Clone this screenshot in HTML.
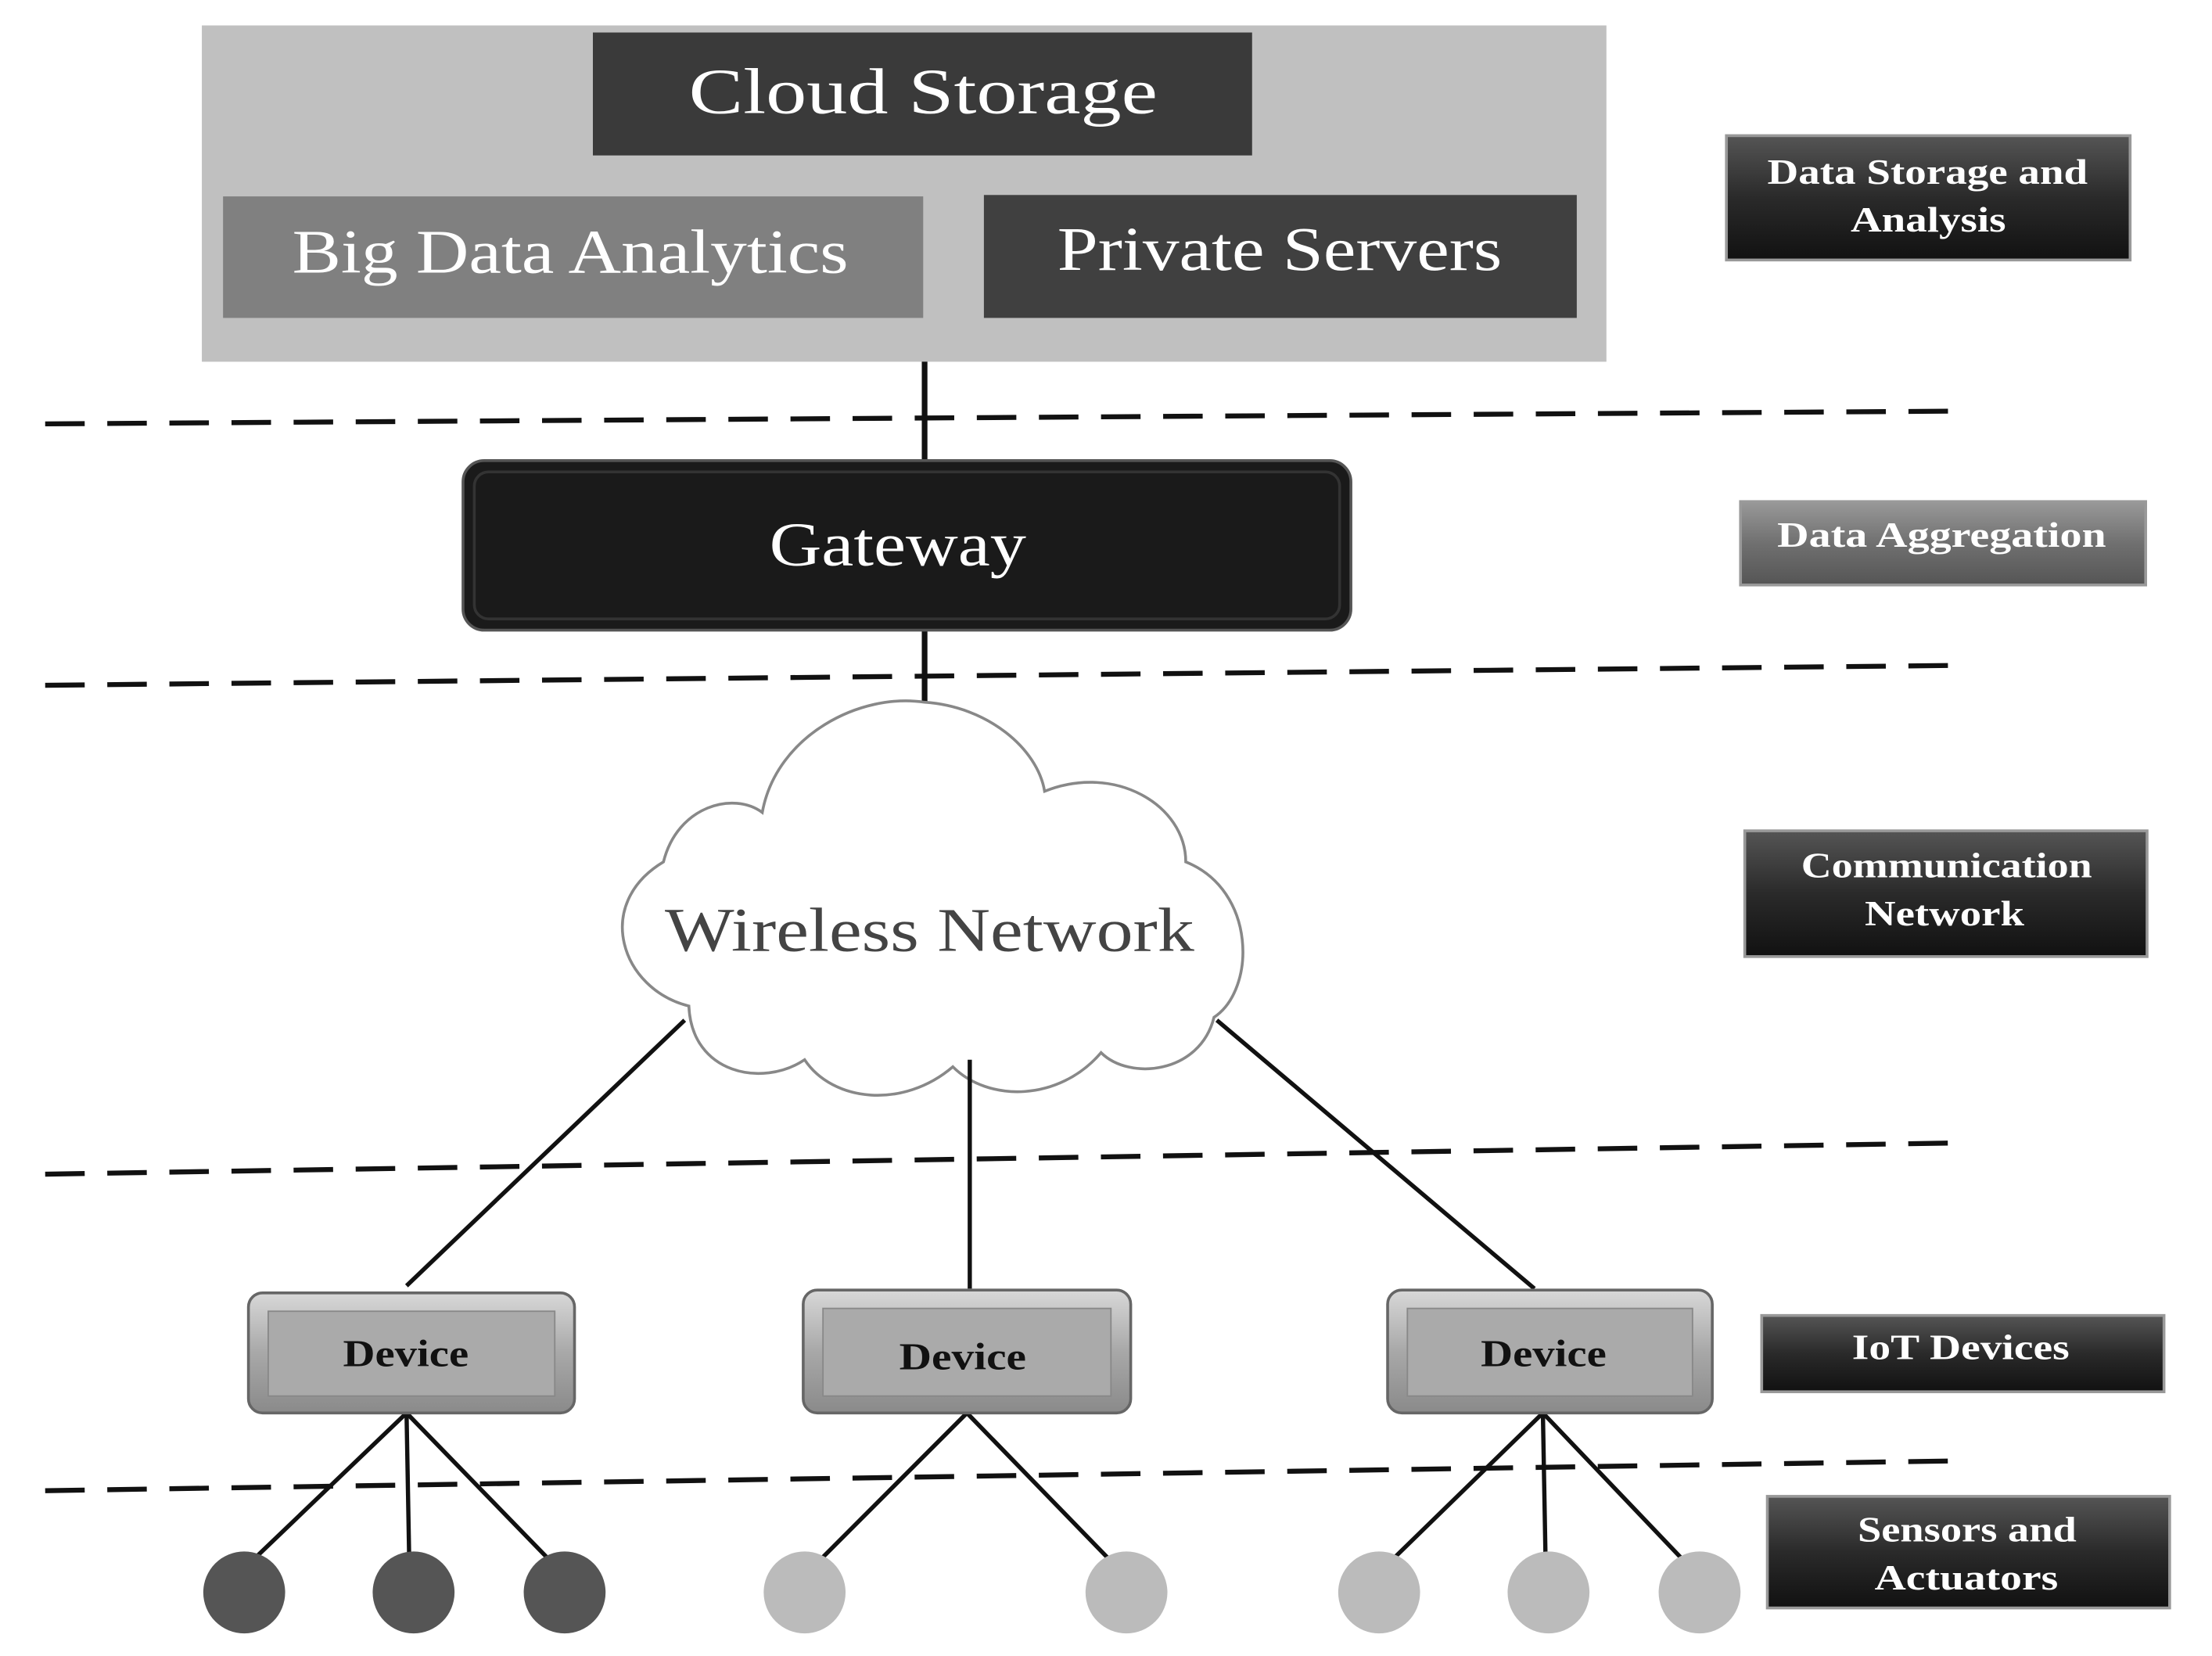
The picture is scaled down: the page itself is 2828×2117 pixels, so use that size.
<!DOCTYPE html>
<html><head><meta charset="utf-8"><style>
html,body{margin:0;padding:0;background:#fff;}
svg{display:block}
text{font-family:"Liberation Serif",serif;}
</style></head><body>
<svg width="2828" height="2117" viewBox="0 0 1567 1172" preserveAspectRatio="none" xmlns="http://www.w3.org/2000/svg">
<defs>
<linearGradient id="dev" x1="0" y1="0" x2="0" y2="1">
<stop offset="0" stop-color="#d8d8d8"/><stop offset="0.5" stop-color="#a8a8a8"/><stop offset="1" stop-color="#8a8a8a"/>
</linearGradient>
<linearGradient id="lab" x1="0" y1="0" x2="0" y2="1">
<stop offset="0" stop-color="#555"/><stop offset="0.5" stop-color="#2a2a2a"/><stop offset="1" stop-color="#111"/>
</linearGradient>
<linearGradient id="labg" x1="0" y1="0" x2="0" y2="1">
<stop offset="0" stop-color="#999"/><stop offset="0.5" stop-color="#707070"/><stop offset="1" stop-color="#555"/>
</linearGradient>
</defs>
<rect x="143" y="18" width="995" height="238" fill="#c0c0c0"/>
<rect x="420" y="23" width="467" height="87" fill="#3a3a3a"/>
<text x="488" y="80" font-size="46" fill="#fff" textLength="332" lengthAdjust="spacingAndGlyphs">Cloud Storage</text>
<rect x="158" y="139" width="496" height="86" fill="#808080"/>
<text x="207" y="193" font-size="44" fill="#fff" textLength="394" lengthAdjust="spacingAndGlyphs">Big Data Analytics</text>
<rect x="697" y="138" width="420" height="87" fill="#404040"/>
<text x="749" y="191" font-size="44" fill="#fff" textLength="315" lengthAdjust="spacingAndGlyphs">Private Servers</text>
<g stroke="#111" stroke-width="4">
<line x1="655" y1="256" x2="655" y2="328"/>
<line x1="655" y1="445" x2="655" y2="497"/>
</g>
<g stroke="#111" stroke-width="3.5" stroke-dasharray="28 16" fill="none">
<line x1="32" y1="300" x2="1380" y2="291"/>
<line x1="32" y1="485" x2="1380" y2="471"/>
<line x1="32" y1="831" x2="1380" y2="809"/>
<line x1="32" y1="1055" x2="1380" y2="1034"/>
</g>
<rect x="328" y="326" width="629" height="120" rx="15" fill="#1a1a1a" stroke="#555" stroke-width="2"/>
<rect x="336" y="334" width="613" height="104" rx="10" fill="none" stroke="#333" stroke-width="2"/>
<text x="545" y="400" font-size="44" fill="#fff" textLength="182" lengthAdjust="spacingAndGlyphs">Gateway</text>
<path d="M488,712 C440,700 420,640 470,610 C480,570 520,560 540,575 C550,520 610,490 655,497 C700,500 735,530 740,560 C790,540 840,570 840,610 C890,630 890,700 860,720 C850,760 800,765 780,745 C750,780 700,780 675,755 C640,785 590,780 570,750 C540,770 490,760 488,712 Z" fill="#fff" stroke="#888" stroke-width="2"/>
<text x="471" y="673" font-size="44" fill="#444" textLength="375" lengthAdjust="spacingAndGlyphs">Wireless Network</text>
<g stroke="#111" stroke-width="3">
<line x1="485" y1="722" x2="288" y2="910"/>
<line x1="687" y1="750" x2="687" y2="912"/>
<line x1="862" y1="722" x2="1087" y2="912"/>
<line x1="288" y1="1000" x2="173" y2="1110"/>
<line x1="288" y1="1000" x2="290" y2="1110"/>
<line x1="288" y1="1000" x2="395" y2="1110"/>
<line x1="685" y1="1000" x2="575" y2="1110"/>
<line x1="685" y1="1000" x2="792" y2="1110"/>
<line x1="1093" y1="1000" x2="980" y2="1110"/>
<line x1="1093" y1="1000" x2="1095" y2="1110"/>
<line x1="1093" y1="1000" x2="1198" y2="1110"/>
</g>
<g stroke="#666" stroke-width="2" fill="url(#dev)">
<rect x="176" y="915" width="231" height="85" rx="10"/>
<rect x="569" y="913" width="232" height="87" rx="10"/>
<rect x="983" y="913" width="230" height="87" rx="10"/>
</g>
<g fill="#aaa" stroke="#888" stroke-width="1">
<rect x="190" y="928" width="203" height="60"/>
<rect x="583" y="926" width="204" height="62"/>
<rect x="997" y="926" width="202" height="62"/>
</g>
<g font-size="27" font-weight="bold" fill="#111">
<text x="243" y="967" textLength="89" lengthAdjust="spacingAndGlyphs">Device</text>
<text x="637" y="969" textLength="90" lengthAdjust="spacingAndGlyphs">Device</text>
<text x="1049" y="967" textLength="89" lengthAdjust="spacingAndGlyphs">Device</text>
</g>
<g fill="#555">
<circle cx="173" cy="1127" r="29"/><circle cx="293" cy="1127" r="29"/><circle cx="400" cy="1127" r="29"/>
</g>
<g fill="#bbb">
<circle cx="570" cy="1127" r="29"/><circle cx="798" cy="1127" r="29"/><circle cx="977" cy="1127" r="29"/><circle cx="1097" cy="1127" r="29"/><circle cx="1204" cy="1127" r="29"/>
</g>
<g stroke="#999" stroke-width="2">
<rect x="1223" y="96" width="286" height="88" fill="url(#lab)"/>
<rect x="1233" y="355" width="287" height="59" fill="url(#labg)"/>
<rect x="1236" y="588" width="285" height="89" fill="url(#lab)"/>
<rect x="1248" y="931" width="285" height="54" fill="url(#lab)"/>
<rect x="1252" y="1059" width="285" height="79" fill="url(#lab)"/>
</g>
<g font-size="25" font-weight="bold" fill="#fff">
<text x="1252" y="130" textLength="227" lengthAdjust="spacingAndGlyphs">Data Storage and</text>
<text x="1311" y="164" textLength="110" lengthAdjust="spacingAndGlyphs">Analysis</text>
<text x="1259" y="387" textLength="233" lengthAdjust="spacingAndGlyphs">Data Aggregation</text>
<text x="1276" y="621" textLength="206" lengthAdjust="spacingAndGlyphs">Communication</text>
<text x="1321" y="655" textLength="113" lengthAdjust="spacingAndGlyphs">Network</text>
<text x="1312" y="962" textLength="154" lengthAdjust="spacingAndGlyphs">IoT Devices</text>
<text x="1316" y="1091" textLength="155" lengthAdjust="spacingAndGlyphs">Sensors and</text>
<text x="1328" y="1125" textLength="130" lengthAdjust="spacingAndGlyphs">Actuators</text>
</g>
</svg>
</body></html>
